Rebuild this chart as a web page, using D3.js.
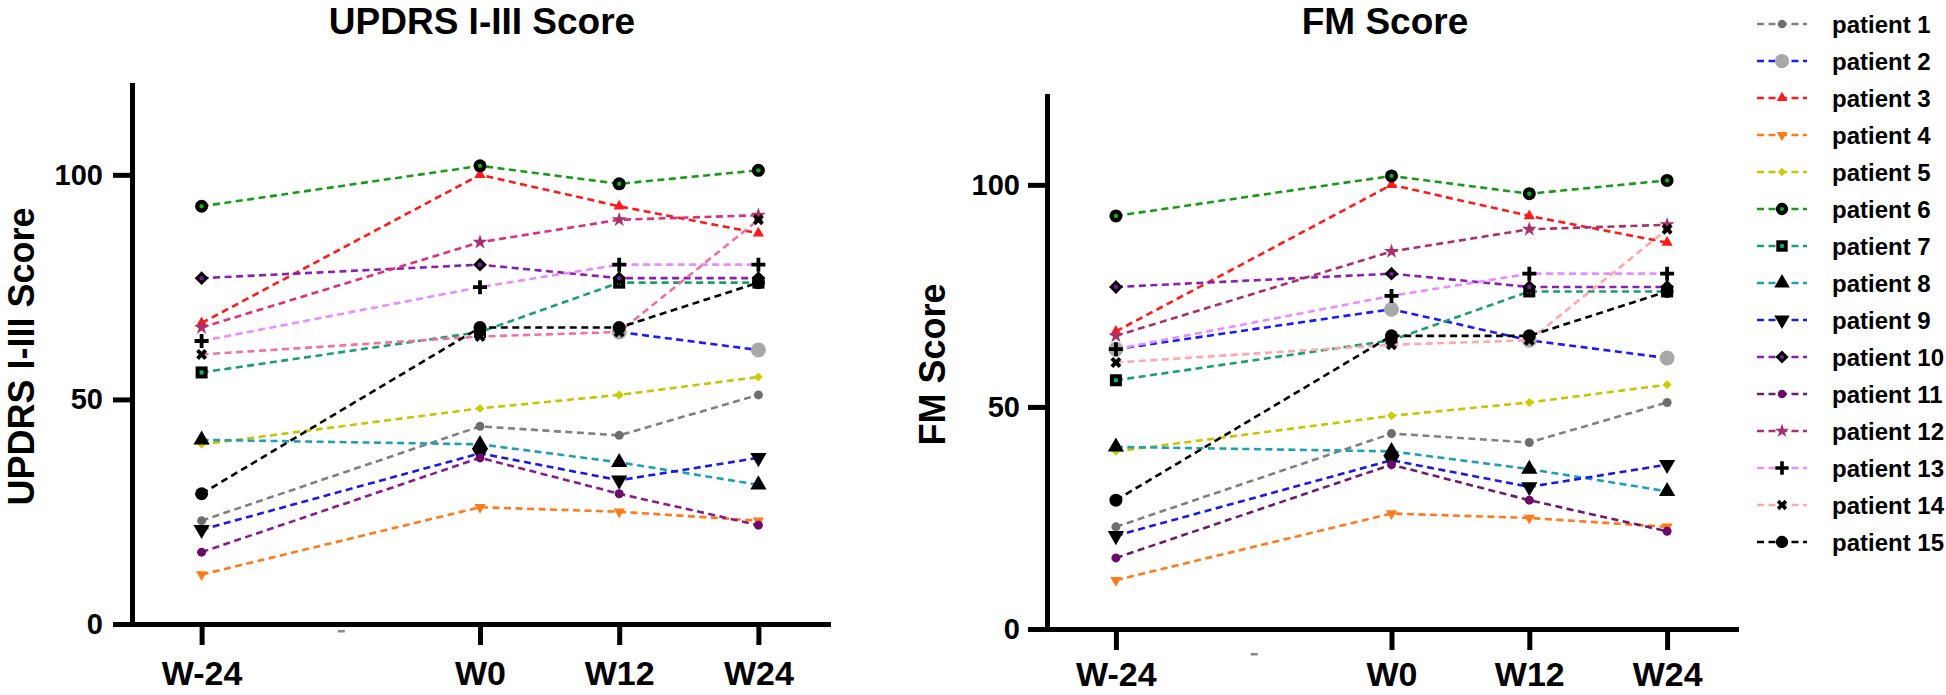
<!DOCTYPE html>
<html><head><meta charset="utf-8">
<script src="https://cdn.jsdelivr.net/npm/d3@7"></script>
<style>
body{margin:0;background:#fff}
svg{display:block}
text{font-family:"Liberation Sans",Arial,Helvetica,sans-serif;font-weight:bold;fill:#000}
</style>
</head><body>
<svg id="c" width="1946" height="695"></svg>
<script>
// ---------------- data ----------------
const weeks = [-24, 0, 12, 24];
const weekLabels = ["W-24", "W0", "W12", "W24"];
const yTicks = [0, 50, 100];
const patients = ["patient 1","patient 2","patient 3","patient 4","patient 5","patient 6","patient 7",
  "patient 8","patient 9","patient 10","patient 11","patient 12","patient 13","patient 14","patient 15"];

// UPDRS I-III score per patient at W-24, W0, W12, W24
const updrs = [
  [23, 44, 42, 51],
  [null, null, 65, 61],
  [67, 100, 93, 87],
  [11, 26, 25, 23],
  [40, 48, 51, 55],
  [93, 102, 98, 101],
  [56, 65, 76, 76],
  [41, 40, 36, 31],
  [21, 38, 32, 37],
  [77, 80, 77, 77],
  [16, 37, 29, 22],
  [66, 85, 90, 91],
  [63, 75, 80, 80],
  [60, 64, 65, 90],
  [29, 66, 66, 76]
];
// FM score per patient at W-24, W0, W12, W24
const fm = [
  [23, 44, 42, 51],
  [63, 72, 65, 61],
  [67, 100, 93, 87],
  [11, 26, 25, 23],
  [40, 48, 51, 55],
  [93, 102, 98, 101],
  [56, 65, 76, 76],
  [41, 40, 36, 31],
  [21, 38, 32, 37],
  [77, 80, 77, 77],
  [16, 37, 29, 22],
  [66, 85, 90, 91],
  [63, 75, 80, 80],
  [60, 64, 65, 90],
  [29, 66, 66, 76]
];

// ---------------- styles ----------------
const lineColorsUPDRS = ["#808080","#1a1aff","#ff1a1a","#ff7a1a","#c8c400","#1a9a1a","#1a9f6e","#1f9fb4",
  "#1a1ae6","#8a1fb0","#8c1a8c","#dc2f7c","#e88cff","#f070a4","#000000"];
const lineColorsFM = ["#808080","#1a1aff","#ff1a1a","#ff7a1a","#c8c400","#1a9a1a","#1a9f6e","#1f9fb4",
  "#1a1ae6","#8a1fb0","#6e1a6e","#a8306c","#e88cff","#ffa8a8","#000000"];
const markerShapes = ["circle","circle","triangle","triangleDown","diamond","circle","square","triangle",
  "triangleDown","diamond","circle","star","plus","cross","circle"];
const markerFills = ["#6e6e6e","#a8a8a8","#ff1a1a","#ff7a1a","#cccc00","#000000","#000000","#000000",
  "#000000","#000000","#6a0a6a","#a8306c","#000000","#000000","#000000"];
const markerCenters = [null,null,null,null,null,"#10b010",null,null,null,"#7a1aa0",null,null,null,null,null];
const markerSquareCenters = [null,null,null,null,null,null,"#10b070",null,null,null,null,null,null,null,null];
const markerSizes = [4.5, 7.5, 55, 55, 40, 6.5, 12, 115, 115, 95, 4.5, 70, 7, 75, 6.5];

const svg = d3.select("#c");

function drawMarker(g, i, x, y, k) {
  k = k || 1;
  const shape = markerShapes[i], fill = markerFills[i], s = markerSizes[i];
  const m = g.append("g").attr("transform", `translate(${x},${y})`);
  if (shape === "circle") {
    m.append("circle").attr("r", s * k).attr("fill", fill);
  } else if (shape === "square") {
    m.append("rect").attr("x", -s/2*k).attr("y", -s/2*k).attr("width", s*k).attr("height", s*k).attr("fill", fill);
  } else if (shape === "triangle") {
    m.append("path").attr("d", d3.symbol(d3.symbolTriangle, s*k*k)()).attr("fill", fill);
  } else if (shape === "triangleDown") {
    m.append("path").attr("d", d3.symbol(d3.symbolTriangle, s*k*k)()).attr("transform","rotate(180)").attr("fill", fill);
  } else if (shape === "diamond") {
    m.append("path").attr("d", d3.symbol(d3.symbolSquare, s*k*k)()).attr("transform","rotate(45)").attr("fill", fill);
  } else if (shape === "star") {
    m.append("path").attr("d", d3.symbol(d3.symbolStar, s*k*k)()).attr("fill", fill);
  } else if (shape === "cross") {
    m.append("path").attr("d", d3.symbol(d3.symbolCross, s*k*k)()).attr("transform","rotate(45)").attr("fill", fill);
  } else if (shape === "plus") {
    m.append("path").attr("d", `M${-s*k},0H${s*k}M0,${-s*k}V${s*k}`).attr("stroke", fill).attr("stroke-width", 3.8*k).attr("fill","none");
  }
  if (markerCenters[i]) m.append("circle").attr("r", 2.2*k).attr("fill", markerCenters[i]);
  if (markerSquareCenters[i]) m.append("rect").attr("x",-2*k).attr("y",-2*k).attr("width",4*k).attr("height",4*k).attr("fill", markerSquareCenters[i]);
}

function drawChart(o) {
  const x = d3.scaleLinear().domain([-30, 30]).range(o.xRange);
  const y = d3.scaleLinear().domain([0, 120]).range(o.yRange);
  const g = svg.append("g");

  // series
  const line = d3.line().defined(d => d.v !== null).x(d => x(d.w)).y(d => y(d.v));
  o.data.forEach((vals, i) => {
    const pts = vals.map((v, j) => ({w: weeks[j], v: v}));
    g.append("path").datum(pts).attr("d", line).attr("fill","none")
      .attr("stroke", o.colors[i]).attr("stroke-width", 2.6).attr("stroke-dasharray","7,4.5");
    pts.filter(p => p.v !== null).forEach(p => drawMarker(g, i, x(p.w), y(p.v)));
  });

  // axes
  const yAxis = g.append("g").attr("transform", `translate(${o.xRange[0]},0)`)
    .call(d3.axisLeft(y).tickValues(yTicks).tickSize(19).tickSizeOuter(0).tickPadding(o.yPad));
  const xAxis = g.append("g").attr("transform", `translate(0,${o.yRange[0]})`)
    .call(d3.axisBottom(x).tickValues(weeks).tickFormat((d, i) => weekLabels[i]).tickSize(21).tickSizeOuter(0).tickPadding(o.xPad));
  [yAxis, xAxis].forEach(a => {
    a.select(".domain").attr("stroke","#000").attr("stroke-width",5).attr("stroke-linecap","square");
    a.selectAll(".tick line").attr("stroke","#000").attr("stroke-width",5);
  });
  yAxis.selectAll("text").attr("font-size", 29).attr("fill","#000");
  xAxis.selectAll("text").attr("font-size", 34).attr("fill","#000");
  // small axis-break remnant under the x-axis
  g.append("rect").attr("x", x(-12) - 3).attr("y", o.yRange[0] + o.markDy).attr("width", 7).attr("height", 2.5).attr("fill", "#8a8a8a");

  // titles
  g.append("text").attr("x", o.titleX).attr("y", o.titleY).attr("text-anchor","middle").attr("font-size",37).text(o.title);
  g.append("text").attr("transform", `translate(${o.yTitleX},${(o.yRange[0]+o.yRange[1])/2 + 2}) rotate(-90)`)
    .attr("text-anchor","middle").attr("font-size",36).text(o.yTitle);
}

drawChart({data: updrs, colors: lineColorsUPDRS, xRange: [132, 828], yRange: [624, 85],
  title: "UPDRS I-III Score", titleX: 482, titleY: 34, yTitle: "UPDRS I-III Score", yTitleX: 34, yPad: 10, xPad: 16, markDy: 6});
drawChart({data: fm, colors: lineColorsFM, xRange: [1047, 1736], yRange: [629, 96],
  title: "FM Score", titleX: 1385, titleY: 34, yTitle: "FM Score", yTitleX: 945, yPad: 8, xPad: 12, markDy: 24});

// legend
const lg = svg.append("g");
patients.forEach((name, i) => {
  const yy = 24 + i * 37;
  lg.append("line").attr("x1", 1757).attr("x2", 1807).attr("y1", yy).attr("y2", yy)
    .attr("stroke", lineColorsFM[i]).attr("stroke-width", 2.6).attr("stroke-dasharray","7,4.5");
  drawMarker(lg, i, 1782, yy, 0.95);
  lg.append("text").attr("x", 1832).attr("y", yy + 8.5).attr("font-size", 24).text(name);
});
</script>
</body></html>
